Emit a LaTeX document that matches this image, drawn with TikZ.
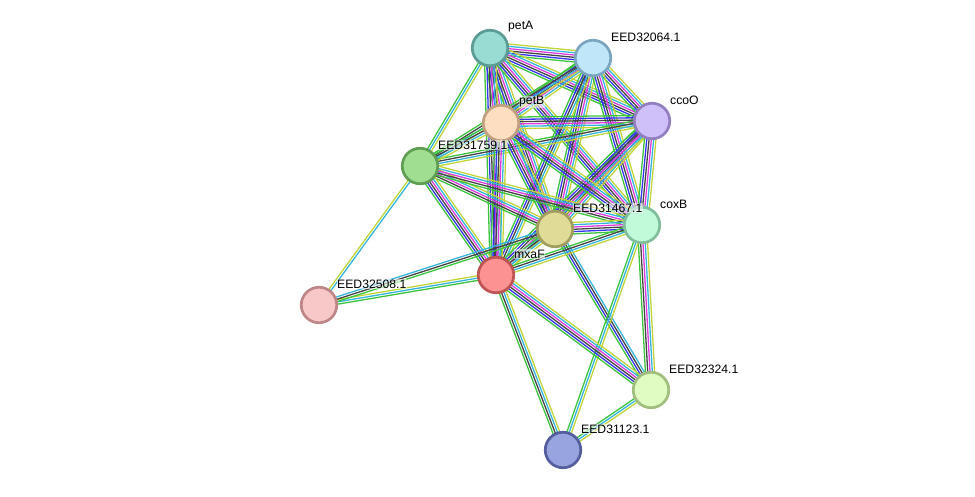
\documentclass[tikz,border=0pt]{standalone}
\usepackage{fontspec}
\setmainfont{Liberation Sans}
\usetikzlibrary{calc}
\pgfdeclarelayer{background}
\pgfsetlayers{background,main}
\definecolor{eg}{HTML}{3CC43C}
\definecolor{eb}{HTML}{3535EE}
\definecolor{ek}{HTML}{444444}
\definecolor{em}{HTML}{DD3BDD}
\definecolor{ec}{HTML}{35B5DD}
\definecolor{ey}{HTML}{C2D43A}
\tikzset{
  prot/.style={circle, minimum size=35.5pt, inner sep=0pt, line width=2.7pt},
  lab/.style={anchor=west, inner sep=0.6pt, fill=white, fill opacity=0.55, text opacity=1, font=\fontsize{12.2}{14}\selectfont},
  strand/.style={line width=1.3pt}
}
\newcommand\bundle[3]{%
  \foreach \c [count=\i] in {#3} {\xdef\bundleN{\i}}%
  \foreach \c [count=\i] in {#3} {%
    \pgfmathsetmacro\off{(\i-(\bundleN+1)/2)*2.3}%
    \draw[strand, \c] ($(#1)!\off pt!90:(#2)$) -- ($(#2)!\off pt!-90:(#1)$);
  }%
}
\begin{document}
\begin{tikzpicture}[x=1pt,y=-1pt]
\useasboundingbox (0,0) rectangle (975,496);
% nodes
\node[prot, fill={rgb,255:red,152;green,220;blue,212}, draw={rgb,255:red,92;green,156;blue,148}] (petA) at (490,48) {};
\node[prot, fill={rgb,255:red,192;green,230;blue,250}, draw={rgb,255:red,124;green,166;blue,192}] (E64) at (593,58) {};
\node[prot, fill={rgb,255:red,208;green,192;blue,250}, draw={rgb,255:red,146;green,126;blue,192}] (ccoO) at (652,121) {};
\node[prot, fill={rgb,255:red,253;green,222;blue,192}, draw={rgb,255:red,192;green,160;blue,128}] (petB) at (501,123) {};
\node[prot, fill={rgb,255:red,160;green,222;blue,146}, draw={rgb,255:red,96;green,158;blue,84}] (L59) at (420,166) {};
\node[prot, fill={rgb,255:red,224;green,220;blue,152}, draw={rgb,255:red,160;green,158;blue,94}] (K67) at (555,229) {};
\node[prot, fill={rgb,255:red,192;green,250;blue,216}, draw={rgb,255:red,128;green,190;blue,156}] (coxB) at (642,225) {};
\node[prot, fill={rgb,255:red,252;green,146;blue,146}, draw={rgb,255:red,190;green,84;blue,84}] (mxaF) at (496,275) {};
\node[prot, fill={rgb,255:red,248;green,200;blue,200}, draw={rgb,255:red,190;green,134;blue,134}] (P08) at (319,305) {};
\node[prot, fill={rgb,255:red,224;green,252;blue,194}, draw={rgb,255:red,160;green,190;blue,126}] (S24) at (651,390) {};
\node[prot, fill={rgb,255:red,152;green,164;blue,224}, draw={rgb,255:red,84;green,94;blue,158}] (T23) at (563,450) {};
% edges
\begin{pgfonlayer}{background}
\bundle{petA}{E64}{eg,eb,ek,em,ec,ey}
\bundle{petA}{ccoO}{eg,eb,ek,em,ec,ey}
\bundle{petA}{petB}{eg,eb,ek,em,ec,ey}
\bundle{petA}{L59}{eg,ec,ey}
\bundle{petA}{K67}{eg,eb,ek,em,ec,ey}
\bundle{petA}{coxB}{eg,eb,ek,em,ec,ey}
\bundle{petA}{mxaF}{eg,eb,ek,em,ec,ey}
\bundle{E64}{ccoO}{eg,eb,ek,em,ec,ey}
\bundle{E64}{petB}{eg,eb,ek,em,ec,ey}
\bundle{E64}{L59}{eg,ek,ec,ey}
\bundle{E64}{K67}{eg,eb,ek,em,ec,ey}
\bundle{E64}{coxB}{eg,eb,ek,em,ec,ey}
\bundle{E64}{mxaF}{eg,eb,ek,ec,ey}
\bundle{ccoO}{petB}{eg,eb,ek,em,ec,ey}
\bundle{ccoO}{L59}{eg,ek,ec,ey}
\bundle{ccoO}{K67}{eg,eb,ek,em,ec,ey}
\bundle{ccoO}{coxB}{eg,eb,ek,em,ec,ey}
\bundle{ccoO}{mxaF}{eg,eb,ek,em,ec,ey}
\bundle{petB}{L59}{eg,ek,ec,ey}
\bundle{petB}{K67}{eg,eb,ek,em,ec,ey}
\bundle{petB}{coxB}{eg,eb,ek,em,ec,ey}
\bundle{petB}{mxaF}{eg,eb,ek,em,ec,ey}
\bundle{L59}{K67}{eg,ek,em,ec,ey}
\bundle{L59}{coxB}{eg,ek,em,ec,ey}
\bundle{L59}{mxaF}{eg,eb,ek,em,ec,ey}
\bundle{K67}{coxB}{eg,eb,ek,em,ec,ey}
\bundle{K67}{mxaF}{eg,ek,ec,ey}
\bundle{K67}{S24}{eg,eb,ek,ec}
\bundle{coxB}{mxaF}{eg,ek,ec,ey}
\bundle{coxB}{S24}{eg,ek,em,ec,ey}
\bundle{coxB}{T23}{eg,ec,ey}
\bundle{mxaF}{S24}{eg,eb,ek,em,ec,ey}
\bundle{mxaF}{T23}{eg,ek,ec,ey}
\bundle{S24}{T23}{eg,ec,ey}
\bundle{P08}{L59}{ec,ey}
\bundle{P08}{mxaF}{eg,ec,ey}
\bundle{P08}{K67}{eg,ek,ec}
\end{pgfonlayer}
% labels
\node[lab] (petAl) at ($(petA)+(17.4,-21)$) {petA};
\node[lab] (E64l) at ($(E64)+(17.4,-21)$) {EED32064.1};
\node[lab] (ccoOl) at ($(ccoO)+(17.4,-21)$) {ccoO};
\node[lab] (petBl) at ($(petB)+(17.4,-21)$) {petB};
\node[lab] (L59l) at ($(L59)+(17.4,-21)$) {EED31759.1};
\node[lab] (K67l) at ($(K67)+(17.4,-21)$) {EED31467.1};
\node[lab] (coxBl) at ($(coxB)+(17.4,-21)$) {coxB};
\node[lab] (mxaFl) at ($(mxaF)+(17.4,-21)$) {mxaF};
\node[lab] (P08l) at ($(P08)+(17.4,-21)$) {EED32508.1};
\node[lab] (S24l) at ($(S24)+(17.4,-21)$) {EED32324.1};
\node[lab] (T23l) at ($(T23)+(17.4,-21)$) {EED31123.1};
\end{tikzpicture}
\end{document}
